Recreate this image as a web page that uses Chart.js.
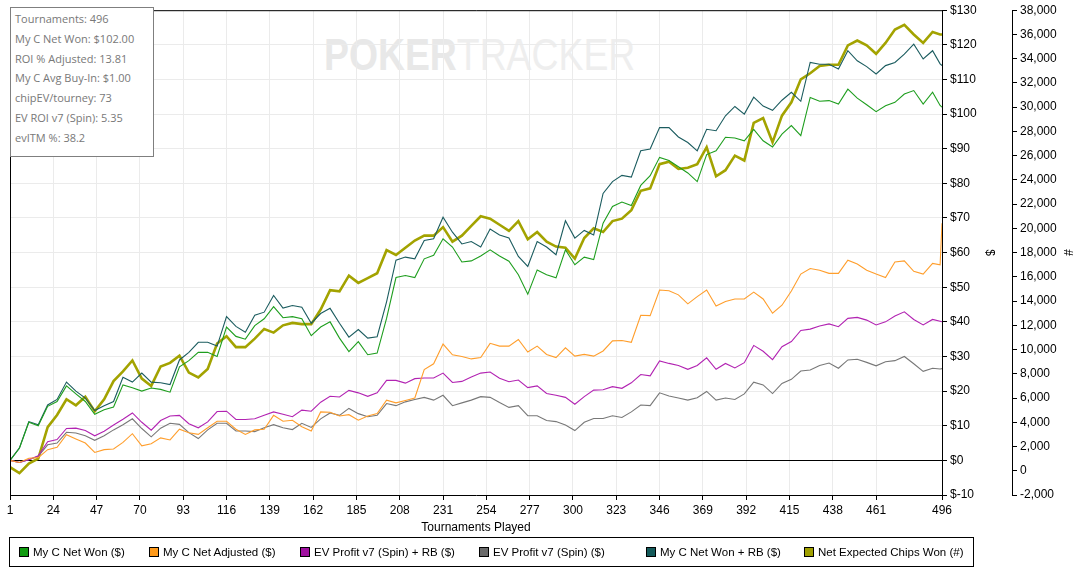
<!DOCTYPE html>
<html>
<head>
<meta charset="utf-8">
<script src="https://cdn.jsdelivr.net/npm/chart.js@4.4.1/dist/chart.umd.min.js"></script>
<style>
html,body{margin:0;padding:0;background:#fff;}
#wrap{position:relative;width:1082px;height:570px;overflow:hidden;background:#fff;}
#wm{position:absolute;left:324px;top:32px;font-family:"Liberation Sans",Arial,sans-serif;font-size:45px;line-height:45px;white-space:nowrap;transform:scaleX(0.83);transform-origin:left top;}
#wm b{color:#e8e8e8;}
#wm span{color:#eeeeee;}
#c{position:absolute;left:0;top:0;}
#stats{position:absolute;left:10px;top:7px;width:144px;height:150px;box-sizing:border-box;border:1px solid #7f7f7f;background:#fff;font-family:"Open Sans",sans-serif;font-size:11px;line-height:19.8px;color:#787878;padding:1px 0 0 4px;}
#legend{position:absolute;left:9px;top:537px;width:965px;height:30px;box-sizing:border-box;border:1px solid #000;font-family:"Liberation Sans",Arial,sans-serif;font-size:11.5px;color:#000;}
.li{position:absolute;top:0;height:28px;line-height:28px;white-space:nowrap;}
.sq{display:inline-block;width:8px;height:8px;border:1px solid #000;vertical-align:middle;margin-right:4px;position:relative;top:-1px;}
</style>
</head>
<body>
<div id="wrap">
  <div id="wm"><b>POKER</b><span>TRACKER</span></div>
  <canvas id="c" width="1082" height="570"></canvas>
  <div id="stats"></div>
  <div id="legend"></div>
</div>
<script>
// ---------- DATA ----------
const tourneys = [1,6,11,16,21,26,31,36,41,46,51,56,61,66,71,76,81,86,91,96,101,106,111,116,121,126,131,136,141,146,151,156,161,166,171,176,181,186,191,196,201,206,211,216,221,226,231,236,241,246,251,256,261,266,271,276,281,286,291,296,301,306,311,316,321,326,331,336,341,346,351,356,361,366,371,376,381,386,391,396,401,406,411,416,421,426,431,436,441,446,451,456,461,466,471,476,481,486,491,495,496];

const xTicks = [1,24,47,70,93,116,139,162,185,208,231,254,277,300,323,346,369,392,415,438,461,496];

const seriesNames = ["My C Net Won ($)","My C Net Adjusted ($)","EV Profit v7 (Spin) + RB ($)","EV Profit v7 (Spin) ($)","My C Net Won + RB ($)","Net Expected Chips Won (#)"];

const netWon = [0,3.5,11,10,15.6,17,21.5,19.2,17,13.3,
14.6,15.4,21.8,21,20,20.9,20.5,19.7,27,28.8,
31.2,31.2,30,38.5,35.8,35,38.9,40.9,44.4,41.2,
41.5,40.9,36,38.5,40,35.3,31.4,34.3,30.5,31,
41,52.8,53.4,52.8,58.2,59.2,64,61.6,57.3,57.6,
59,60.8,59,57.5,53.6,48,55,53.6,52.7,60.8,
56.5,58.7,58,68.5,73.3,74.6,73.6,79.4,82.2,87.5,
86.6,84.8,83,80.5,88.3,89.4,93.3,93.1,92.3,95.6,
92.3,90.5,94.2,96.7,93.8,104.8,103.7,103.9,102.9,107.2,
104.6,102.7,100.7,102.4,103.4,105.8,106.8,102.9,106.3,102.5,102];

const netAdjusted = [0,-0.6,0.6,0.8,3.1,3.8,7.4,6.2,5,2.3,
3.1,3.3,5.2,7.7,4.2,4.8,6.5,5.9,9,8,
7.5,9.4,11.3,11.3,9,7.5,8.8,9,13,11.3,
11.6,9.7,8.5,14,13.9,12.8,13.2,11.6,12.8,13.5,
17.4,16.6,17.3,18,26.2,27.9,33.6,30.5,30,29.3,
29.7,33.8,33,33,34.9,31.3,33,30.6,29.7,32.5,
30.1,30.6,30.1,31.6,34.5,34.6,34.1,41.9,41.8,49.2,
49,47.8,45.2,47.3,49.2,44.6,45.9,46.6,46.6,48.6,
46.6,42.5,44.8,48.9,53.8,55.4,54.9,54,54,57.8,
56.7,54.9,53.8,52.8,57.3,57.6,54.6,53.8,56.9,56.5,68.5];

const evProfitRB = [0,-0.6,0.2,1.3,5.4,6,9.2,9.3,8.6,7.1,
8.4,10.2,11.9,13.7,11,8.7,11.5,12.8,13,10.6,
9.4,11.1,14.1,14.2,11.8,11.8,12,13,14,13.3,
12.6,14.5,14.2,16.8,18.5,18.3,20.2,19.5,18.5,19.5,
23.1,23.1,22.3,23.6,23.8,23.8,25.2,22.5,22.8,24.1,
25.2,25.5,23.7,22.7,23.2,21,21.5,19.3,18.8,18.2,
16.2,18.4,20.3,20.4,21.3,20.8,22.4,24.8,24.4,28.7,
28,27.4,26.3,27.4,29.6,26.3,28,26.7,28.2,33.2,
31.5,29.1,32.8,34.3,37.5,37.9,38.8,39.4,38.6,41,
41.3,40.5,39.1,40,41.7,42.9,40.7,39.1,40.7,40.2,40];

const evProfit = [0,-0.6,0.2,1.2,4.5,5,8.1,7.9,7.1,5.8,
7.1,8.8,10.3,12,9.2,6.8,9.3,10.7,10.4,8,
6.3,8.8,10.7,10.7,8.5,8.5,8.3,9.4,10.3,9.4,
8.9,10.7,9.5,12,13.7,13,15,13.5,12.6,13,
16.4,15.8,16.9,17.6,18.2,17.4,18.8,15.8,16.6,17.4,
18.4,18.2,16.7,15.3,15.8,12.9,12.9,11.5,11.2,10.2,
8.6,11,12.1,12.1,12.9,12.4,14,16,15.8,19.5,
18.6,18,17.4,18.1,19.9,17.4,18,17.6,19.2,22.6,
21.8,19.3,22.2,23.4,25.8,26.1,27.4,28.1,26.6,29,
29.2,28.3,27.3,28.5,28.8,30,27.9,25.7,26.6,26.4,26.5];

const netWonRB = [0,3.6,11.2,10.3,16,17.6,22.6,20,18,14.4,
15.8,17,24,22.6,25.2,22.6,22.4,21.9,29,31.2,
34.1,34.1,33,41.5,38.7,37,41.9,42.8,47.6,44,
44.7,44.2,39.6,42.4,43.9,39.6,35.6,37.8,35.3,35.7,
45.8,57.8,58.7,58.2,63.5,64,70.2,65.9,62.5,63.2,
61.6,66.8,65.1,64.2,58.9,56,63.2,61.6,59.4,69.2,
64.2,66.4,65.1,77.1,80.5,82.3,81.8,89.4,89.9,96.1,
96.1,93.4,91.8,89.4,95.6,95.2,99.5,102.2,100,104.9,
102.3,101.1,104,106.3,103.7,114.9,114.4,114.4,113,118.3,
115.4,113.7,111.6,114,114.9,117.3,120.2,115.9,118.3,114.5,114];

const expChips = [300,-200,600,1000,3600,4600,5900,5400,6100,4900,
5900,7400,8200,9100,7600,7000,8600,8900,9500,8100,
7700,8400,10500,11100,10200,10200,10900,11700,11400,12000,
12200,12100,12100,13300,14900,14800,16100,15500,15900,16300,
18200,17800,18400,19000,19400,19400,20100,18900,19400,20200,
21000,20800,20300,19800,20600,19100,19700,18900,18500,18400,
17500,19200,20000,19700,20600,20800,21500,23100,23300,25300,
25500,24900,25000,25300,26700,24300,24800,26000,25600,28700,
29100,27100,29300,30400,32300,32800,33400,33500,33500,35100,
35500,35100,34400,35300,36400,36800,36000,35300,36200,36000,36000];

const statsLines = ["Tournaments: 496","My C Net Won: $102.00","ROI % Adjusted: 13.81","My C Avg Buy-In: $1.00","chipEV/tourney: 73","EV ROI v7 (Spin): 5.35","evITM %: 38.2"];

const lineColors = ["#1e9e1e","#ff9e2c","#b223b2","#787878","#1b5c5f","#a3a300"];
const legendColors = ["#109c10","#ff9a1a","#a010a0","#6a6a6a","#145a5a","#a0a000"];
const legendX = [9,139,290,469,636,794];

// ---------- BUILD ----------
function pts(arr){ return tourneys.map((t,i)=>({x:t,y:arr[i]})); }
const seriesData = [netWon, netAdjusted, evProfitRB, evProfit, netWonRB, expChips];

const datasets = seriesData.map((arr,i)=>({
  label: seriesNames[i],
  data: pts(arr),
  borderColor: lineColors[i],
  backgroundColor: lineColors[i],
  borderWidth: i===5 ? 2.6 : 1.1,
  pointRadius: 0,
  tension: 0,
  fill: false,
  yAxisID: i===5 ? 'y2' : 'y1'
}));

const FONT = "'Liberation Sans', Arial, sans-serif";

const framePlugin = {
  id:'frame',
  afterDraw(chart){
    const {ctx, chartArea:{left,top,right,bottom}} = chart;
    ctx.save();
    ctx.strokeStyle='#000'; ctx.lineWidth=1;
    ctx.beginPath();
    ctx.moveTo(left+0.5,bottom); ctx.lineTo(left+0.5,top+0.5); ctx.lineTo(right,top+0.5);
    ctx.stroke();
    ctx.restore();
  }
};

new Chart(document.getElementById('c'), {
  type:'line',
  data:{datasets},
  options:{
    responsive:false,
    animation:false,
    devicePixelRatio:1,
    layout:{padding:{left:10,top:10,right:0,bottom:35}},
    plugins:{legend:{display:false},tooltip:{enabled:false}},
    scales:{
      x:{
        type:'linear', min:1, max:496,
        afterBuildTicks(scale){ scale.ticks = xTicks.map(v=>({value:v})); },
        afterFit(scale){ scale.height = 40; },
        ticks:{autoSkip:false,maxRotation:0,color:'#000',font:{family:FONT,size:12},padding:3,callback:v=>String(v)},
        grid:{color:'#ebebeb',tickColor:'#000',tickLength:5},
        border:{color:'#000'},
        title:{display:true,text:'Tournaments Played',color:'#000',font:{family:FONT,size:12},padding:{top:2,bottom:0}}
      },
      y1:{
        type:'linear', position:'right', min:-10, max:130,
        afterFit(scale){ scale.width = 70; },
        ticks:{stepSize:10,color:'#000',font:{family:FONT,size:12},padding:3,callback:v=>'$'+v},
        grid:{color:c=>c.tick && c.tick.value===0 ? '#000' : '#ebebeb',tickColor:'#000',tickLength:5},
        border:{color:'#000'},
        title:{display:true,text:'$',color:'#000',font:{family:FONT,size:12},padding:{top:15,bottom:0}}
      },
      y2:{
        type:'linear', position:'right', min:-2000, max:38000,
        afterFit(scale){ scale.width = 70; },
        ticks:{stepSize:2000,color:'#000',font:{family:FONT,size:12},padding:3,callback:v=>v.toLocaleString('en-US')},
        grid:{drawOnChartArea:false,color:'#000',tickColor:'#000',tickLength:5},
        border:{color:'#000'},
        title:{display:true,text:'#',color:'#000',font:{family:FONT,size:12},padding:{top:7,bottom:0}}
      }
    }
  },
  plugins:[framePlugin]
});

// stats box
document.getElementById('stats').innerHTML = statsLines.map(s=>'<div>'+s+'</div>').join('');

// legend
const lg = document.getElementById('legend');
seriesNames.forEach((n,i)=>{
  const d = document.createElement('div');
  d.className='li';
  d.style.left = legendX[i]+'px';
  d.innerHTML = '<span class="sq" style="background:'+legendColors[i]+'"></span>'+n;
  lg.appendChild(d);
});
</script>
</body>
</html>
